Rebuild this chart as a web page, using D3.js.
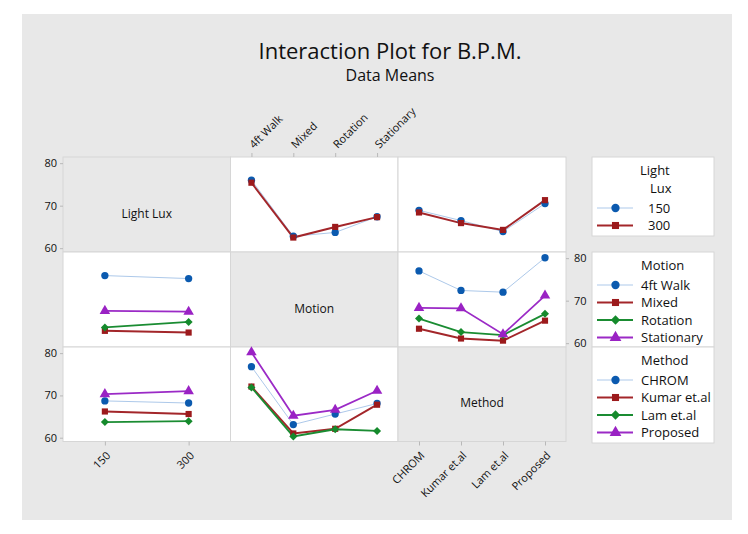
<!DOCTYPE html>
<html><head><meta charset="utf-8">
<script src="https://cdn.jsdelivr.net/npm/d3@7"></script>
<style>body{margin:0;background:#fff;} text{font-family:"Open Sans","Noto Sans",sans-serif;}</style>
</head><body><svg id="c" width="748" height="534"></svg>
<script>
// ---- data ----
const luxLevels = ["150", "300"];
const motionLevels = ["4ft Walk", "Mixed", "Rotation", "Stationary"];
const methodLevels = ["CHROM", "Kumar et.al", "Lam et.al", "Proposed"];
const yTicks = [60, 70, 80];

// Light Lux traces vs Motion
const luxByMotion150 = [76.0, 62.8, 63.7, 67.4];
const luxByMotion300 = [75.4, 62.5, 65.0, 67.3];
// Light Lux traces vs Method
const luxByMethod150 = [68.9, 66.5, 63.9, 70.5];
const luxByMethod300 = [68.4, 65.9, 64.3, 71.3];
// Motion traces vs Light Lux
const motionByLux4ft = [75.9, 75.2];
const motionByLuxMixed = [62.9, 62.5];
const motionByLuxRotation = [63.7, 65.0];
const motionByLuxStationary = [67.6, 67.4];
// Motion traces vs Method
const motionByMethod4ft = [77.0, 72.4, 72.0, 80.1];
const motionByMethodMixed = [63.4, 61.1, 60.6, 65.3];
const motionByMethodRotation = [65.8, 62.6, 61.9, 66.9];
const motionByMethodStationary = [68.3, 68.2, 62.1, 71.2];
// Method traces vs Light Lux
const methodByLuxCHROM = [68.7, 68.2];
const methodByLuxKumar = [66.2, 65.6];
const methodByLuxLam = [63.7, 63.9];
const methodByLuxProposed = [70.3, 71.0];
// Method traces vs Motion
const methodByMotionCHROM = [76.8, 63.1, 65.6, 68.1];
const methodByMotionKumar = [72.1, 61.0, 62.1, 67.8];
const methodByMotionLam = [71.9, 60.3, 62.0, 61.6];
const methodByMotionProposed = [80.2, 65.2, 66.6, 71.1];

// ---- styles ----
const styles = [
  {line:"#adc9ea", lw:1, fill:"#0b5aaf", sym:d3.symbolCircle, size:42, rot:0},
  {line:"#a3262a", lw:2, fill:"#9c1a1c", sym:d3.symbolSquare, size:38, rot:0},
  {line:"#1a8c32", lw:1.8, fill:"#158a2c", sym:d3.symbolSquare, size:32, rot:45},
  {line:"#9b2ac6", lw:1.8, fill:"#9a22c4", sym:d3.symbolTriangle, size:48, rot:0}
];

const svg = d3.select("#c");
svg.append("rect").attr("x",22).attr("y",14).attr("width",710).attr("height",506).attr("fill","#e8e8e8");

svg.append("text").attr("x",390).attr("y",59).attr("text-anchor","middle")
  .style("font-size","22px").attr("fill","#111").text("Interaction Plot for B.P.M.");
svg.append("text").attr("x",390).attr("y",81).attr("text-anchor","middle")
  .style("font-size","16px").attr("fill","#111").text("Data Means");

const colX = [63, 230.5, 398, 566];
const rowY = [157, 252, 347, 441.5];
const factors = [
  {name:"Light Lux", levels:luxLevels},
  {name:"Motion", levels:motionLevels},
  {name:"Method", levels:methodLevels}
];
const panelData = {
  "0-1": [luxByMotion150, luxByMotion300],
  "0-2": [luxByMethod150, luxByMethod300],
  "1-0": [motionByLux4ft, motionByLuxMixed, motionByLuxRotation, motionByLuxStationary],
  "1-2": [motionByMethod4ft, motionByMethodMixed, motionByMethodRotation, motionByMethodStationary],
  "2-0": [methodByLuxCHROM, methodByLuxKumar, methodByLuxLam, methodByLuxProposed],
  "2-1": [methodByMotionCHROM, methodByMotionKumar, methodByMotionLam, methodByMotionProposed]
};

const xScales = factors.map((f,j)=>d3.scalePoint().domain(f.levels).range([colX[j], colX[j+1]]).padding(0.5));
const yScales = [0,1,2].map(i=>d3.scaleLinear().domain([59.1, 81.45]).range([rowY[i+1], rowY[i]]));

function marker(g, st, x, y, extra){
  g.append("path").attr("d", d3.symbol().type(st.sym).size(st.size+(extra||0))())
    .attr("transform",`translate(${x},${y}) rotate(${st.rot})`).attr("fill", st.fill);
}

for (let i=0;i<3;i++){
  for (let j=0;j<3;j++){
    const x0=colX[j], y0=rowY[i], w=colX[j+1]-colX[j], h=rowY[i+1]-rowY[i];
    const g = svg.append("g");
    g.append("rect").attr("x",x0).attr("y",y0).attr("width",w).attr("height",h)
      .attr("fill", i===j ? "#e8e8e8" : "#fff").attr("stroke","#d6d6d6").attr("stroke-width",1);
    if (i===j){
      g.append("text").attr("x",x0+w/2).attr("y",y0+h/2+13).attr("text-anchor","middle")
        .style("font-size","12px").attr("fill","#111").text(factors[i].name);
      continue;
    }
    const series = panelData[i+"-"+j];
    const xs = xScales[j], ys = yScales[i];
    const lvls = factors[j].levels;
    series.forEach((vals,k)=>{
      const st = styles[k];
      const pts = vals.map((v,m)=>[xs(lvls[m]), ys(v)]);
      g.append("path").attr("d", d3.line()(pts)).attr("fill","none")
        .attr("stroke", st.line).attr("stroke-width", st.lw);
    });
    series.forEach((vals,k)=>{
      vals.forEach((v,m)=> marker(g, styles[k], xs(lvls[m]), ys(v)));
    });
  }
}

// y axes
function styleAxis(a){
  a.select(".domain").remove();
  a.selectAll(".tick line").attr("stroke","#b8b8b8");
  a.selectAll(".tick text").style("font-size","11px").attr("fill","#111").style("font-family","'Open Sans','Noto Sans',sans-serif");
}
[0,2].forEach(i=>{
  const a = svg.append("g").attr("transform",`translate(${colX[0]},0)`)
    .call(d3.axisLeft(yScales[i]).tickValues(yTicks).tickSize(3).tickPadding(3));
  styleAxis(a);
});
{
  const a = svg.append("g").attr("transform",`translate(${colX[3]},0)`)
    .call(d3.axisRight(yScales[1]).tickValues(yTicks).tickSize(3).tickPadding(5));
  styleAxis(a);
}
// x axes: top for Motion, bottom for Light Lux and Method
{
  const a = svg.append("g").attr("transform",`translate(0,${rowY[0]})`)
    .call(d3.axisTop(xScales[1]).tickSize(4));
  styleAxis(a);
  a.selectAll(".tick text").attr("text-anchor","start").attr("y",0).attr("dy",0)
    .attr("transform","translate(2,-8) rotate(-45)");
}
[0,2].forEach(j=>{
  const a = svg.append("g").attr("transform",`translate(0,${rowY[3]})`)
    .call(d3.axisBottom(xScales[j]).tickSize(4));
  styleAxis(a);
  a.selectAll(".tick text").attr("text-anchor","end").attr("y",0).attr("dy","0.35em")
    .attr("transform","translate(3,12) rotate(-45)");
});

// legends
const legends = [
  {title:["Light","Lux"], items:luxLevels, y0:157, y1:236},
  {title:["Motion"], items:motionLevels, y0:252, y1:347},
  {title:["Method"], items:methodLevels, y0:347, y1:443}
];
const lx0 = 592, lx1 = 714;
legends.forEach((L,li)=>{
  const g = svg.append("g");
  g.append("rect").attr("x",lx0).attr("y",L.y0).attr("width",lx1-lx0).attr("height",L.y1-L.y0)
    .attr("fill","#fff").attr("stroke","#d6d6d6");
  let ty = L.y0 + 18;
  L.title.forEach((t,ti)=>{
    g.append("text").attr("x", li===0 ? (ti===0?640:650) : 641).attr("y", ty)
      .style("font-size","13px").attr("fill","#111").text(t);
    ty += 17.5;
  });
  L.items.forEach((it,k)=>{
    const cy = L.y0 + (li===0 ? 51 : 33) + k*17.5;
    const st = styles[k];
    g.append("line").attr("x1",597).attr("x2",633).attr("y1",cy).attr("y2",cy)
      .attr("stroke",st.line).attr("stroke-width",st.lw);
    marker(g, st, 615.5, cy, 12);
    g.append("text").attr("x", li===0 ? 648 : 641).attr("y", cy+4.5)
      .style("font-size","13px").attr("fill","#111").text(it);
  });
});
</script></body></html>
